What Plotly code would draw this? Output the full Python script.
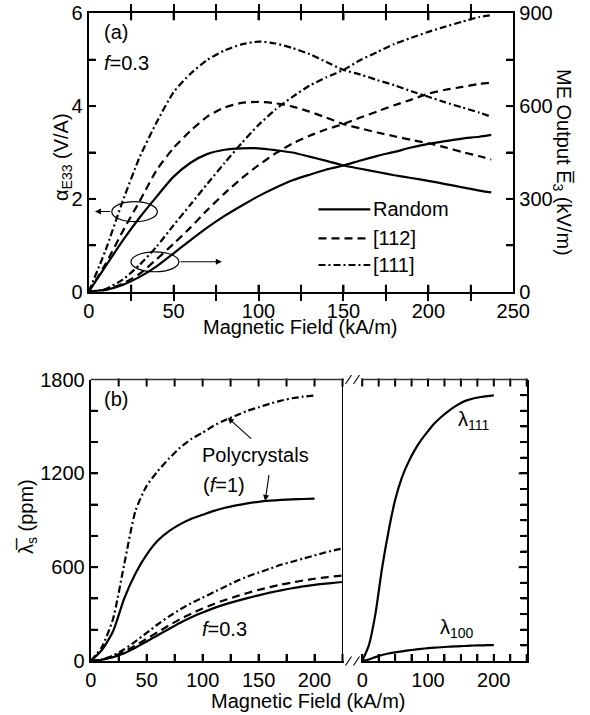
import plotly.graph_objects as go

# ---------------- data ----------------
H_a = [0, 10, 20, 30, 40, 50, 60, 70, 80, 90, 100, 110, 120, 130, 140, 150,
       160, 170, 180, 190, 200, 210, 220, 230, 237]
alpha_random = [0, 0.55, 1.1, 1.6, 2.05, 2.48, 2.78, 2.97, 3.06, 3.09, 3.09, 3.05, 3.0,
                2.91, 2.82, 2.72, 2.65, 2.58, 2.51, 2.45, 2.39, 2.32, 2.25, 2.18, 2.14]
alpha_112 = [0, 0.6, 1.3, 1.95, 2.62, 3.1, 3.47, 3.78, 3.97, 4.07, 4.09, 4.06, 3.99,
             3.88, 3.75, 3.61, 3.52, 3.43, 3.35, 3.27, 3.2, 3.11, 3.01, 2.92, 2.85]
alpha_111 = [0, 0.9, 1.95, 2.9, 3.65, 4.3, 4.7, 5.0, 5.2, 5.33, 5.39, 5.35, 5.25,
             5.12, 4.95, 4.78, 4.68, 4.56, 4.45, 4.32, 4.2, 4.08, 3.97, 3.86, 3.77]
E_random = [0, 6, 22, 48, 82, 124, 167, 208, 245, 278, 309, 336, 360, 378, 395, 408,
            424, 439, 452, 466, 478, 487, 495, 501, 507]
E_112 = [0, 6, 26, 58, 105, 155, 208, 265, 318, 366, 409, 447, 479, 504, 525, 542,
         563, 583, 603, 621, 640, 653, 662, 672, 676]
E_111 = [0, 9, 39, 87, 146, 215, 282, 350, 416, 480, 539, 589, 630, 666, 693, 717,
         749, 775, 801, 821, 840, 857, 873, 888, 894]

H_b = [0, 10, 20, 30, 40, 50, 60, 70, 80, 90, 100, 110, 120, 130, 140, 150,
       160, 170, 180, 190, 200]
poly_random = [0, 70, 190, 400, 560, 680, 770, 830, 875, 910, 935, 960, 980, 995,
               1008, 1018, 1025, 1030, 1033, 1036, 1038]
poly_111 = [0, 90, 270, 620, 960, 1120, 1215, 1295, 1365, 1420, 1460, 1505, 1540,
            1570, 1600, 1622, 1645, 1665, 1680, 1690, 1698]

H_c = [0, 10, 20, 30, 40, 50, 60, 70, 80, 90, 100, 110, 120, 130, 140, 150,
       160, 170, 180, 190, 200, 210, 220, 225]
comp_random = [0, 8, 25, 50, 85, 125, 165, 205, 245, 280, 310, 338, 362, 383, 402,
               420, 437, 452, 465, 477, 487, 495, 502, 505]
comp_112 = [0, 9, 30, 60, 100, 142, 185, 228, 268, 303, 335, 365, 390, 413, 435,
            455, 472, 488, 502, 515, 526, 535, 543, 547]
comp_111 = [0, 10, 35, 75, 125, 180, 235, 285, 330, 370, 405, 440, 475, 510, 540,
            565, 590, 615, 635, 655, 675, 695, 712, 720]

single_111 = [0, 100, 300, 590, 830, 1030, 1170, 1270, 1350, 1415, 1470, 1520, 1560,
              1595, 1625, 1650, 1668, 1680, 1688, 1694, 1698]
single_100 = [0, 10, 25, 38, 48, 55, 62, 68, 73, 78, 82, 85, 88, 91, 93, 95, 97, 99,
              100, 101, 102]

legend_names = ["Random", "[112]", "[111]"]

# tick positions / labels
top_x_ticks = list(range(0, 251, 25))
top_x_labels = [0, 50, 100, 150, 200, 250]
top_y_ticks = [0, 1, 2, 3, 4, 5, 6]
top_y_labels = [0, 2, 4, 6]
top_y2_ticks = list(range(0, 901, 150))
top_y2_labels = [0, 300, 600, 900]
bl_x_ticks = list(range(0, 226, 25))
bl_x_labels = [0, 50, 100, 150, 200]
bl_y_ticks = list(range(0, 1801, 200))
bl_y_labels = [0, 600, 1200, 1800]
br_x_ticks = list(range(0, 251, 25))
br_x_labels = [0, 100, 200]
br_y_ticks = list(range(0, 1801, 100))
br_y_major = [0, 600, 1200, 1800]

# ---------------- styling ----------------
W, Hh = 590, 715
FONT = "Liberation Sans, Arial, sans-serif"
FS = 20
DASH = "8px,5px"
DASHDOT = "7px,3px,2px,3px"
LW = 2.2
styles = {"Random": "solid", "[112]": DASH, "[111]": DASHDOT}
TL = 7.0   # tick length px
TW = 2.0   # tick width


def px(x):
    return x / W


def py(y):
    return 1 - y / Hh


fig = go.Figure()


def line(x, y, dash, xa, ya):
    fig.add_trace(go.Scatter(x=x, y=y, mode="lines", xaxis=xa, yaxis=ya,
                             line=dict(color="black", width=LW, dash=dash, shape="spline",
                                       smoothing=0.6),
                             showlegend=False, hoverinfo="skip"))


# top panel
line(H_a, alpha_random, "solid", "x", "y")
line(H_a, alpha_112, DASH, "x", "y")
line(H_a, alpha_111, DASHDOT, "x", "y")
line(H_a, E_random, "solid", "x", "y2")
line(H_a, E_112, DASH, "x", "y2")
line(H_a, E_111, DASHDOT, "x", "y2")

# bottom-left
line(H_b, poly_random, "solid", "x3", "y3")
line(H_b, poly_111, DASHDOT, "x3", "y3")
line(H_c, comp_random, "solid", "x3", "y3")
line(H_c, comp_112, DASH, "x3", "y3")
line(H_c, comp_111, DASHDOT, "x3", "y3")

# bottom-right
line(H_b, single_111, "solid", "x4", "y4")
line(H_b, single_100, "solid", "x4", "y4")

tickfont = dict(family=FONT, size=FS, color="black")


def ax(**kw):
    d = dict(showgrid=False, zeroline=False, showline=True, linecolor="black",
             linewidth=2, ticks="inside", ticklen=TL, tickwidth=TW, tickcolor="black",
             tickfont=tickfont, tickmode="array", automargin=False)
    d.update(kw)
    return d


T_TOP, B_TOP = 13.3, 291.7
T_BOT, B_BOT = 379.5, 661.0
L_TOP, R_TOP = 88.7, 513.3
L_BL, BRK, R_BR = 90.7, 342.5, 526.7

top_y0, top_y1 = py(B_TOP), py(T_TOP)
bot_y0, bot_y1 = py(B_BOT), py(T_BOT)
x_top = [px(L_TOP), px(R_TOP)]
x_bl = [px(L_BL), px(BRK)]
x_br = [px(BRK), px(R_BR)]

XR_TOP, YR_TOP, Y2R_TOP = [0, 250], [0, 6], [0, 900]
XR_BL, XR_BR, YR_BOT = [0, 225], [-30, 250], [0, 1800]

fig.update_layout(
    template="none",
    width=W, height=Hh, margin=dict(l=0, r=0, t=0, b=0, autoexpand=False),
    paper_bgcolor="white", plot_bgcolor="white",
    font=dict(family=FONT, size=FS, color="black"),
    xaxis=ax(domain=x_top, range=XR_TOP, anchor="y", mirror="allticks",
             tickvals=top_x_ticks,
             ticktext=[str(v) if v in top_x_labels else "" for v in top_x_ticks]),
    yaxis=ax(domain=[top_y0, top_y1], range=YR_TOP, anchor="x",
             tickvals=top_y_ticks,
             ticktext=[str(v) if v in top_y_labels else "" for v in top_y_ticks]),
    yaxis2=ax(range=Y2R_TOP, overlaying="y", side="right", anchor="x",
              tickvals=top_y2_ticks,
              ticktext=[str(v) if v in top_y2_labels else "" for v in top_y2_ticks]),
    xaxis3=ax(domain=x_bl, range=XR_BL, anchor="y3",
              tickvals=bl_x_ticks,
              ticktext=[str(v) if v in bl_x_labels else "" for v in bl_x_ticks]),
    yaxis3=ax(domain=[bot_y0, bot_y1], range=YR_BOT, anchor="x3",
              tickvals=bl_y_ticks,
              ticktext=[str(v) if v in bl_y_labels else "" for v in bl_y_ticks]),
    xaxis4=ax(domain=x_br, range=XR_BR, anchor="y4",
              tickvals=br_x_ticks,
              ticktext=[str(v) if v in br_x_labels else "" for v in br_x_ticks]),
    yaxis4=ax(domain=[bot_y0, bot_y1], range=YR_BOT, anchor="x4", side="right",
              showticklabels=False, tickvals=br_y_ticks),
)

shapes = []


def seg(x0, y0, x1, y1, width=TW, color="black"):
    shapes.append(dict(type="line", xref="paper", yref="paper", x0=px(x0), x1=px(x1),
                       y0=py(y0), y1=py(y1), line=dict(color=color, width=width),
                       layer="above"))


def scale(v, rng, a, b):
    return a + (v - rng[0]) / (rng[1] - rng[0]) * (b - a)


def ticks_x(vals, rng, left, right, top, bottom, length=TL):
    for v in vals:
        xp = scale(v, rng, left, right)
        seg(xp, bottom + 1, xp, bottom - length)
        seg(xp, top - 1, xp, top + length)


def ticks_y(vals, rng, top, bottom, xline, direction, length=TL):
    for v in vals:
        yp = scale(v, rng, bottom, top)
        seg(xline - direction, yp, xline + direction * length, yp)


ticks_x(top_x_ticks[1:-1], XR_TOP, L_TOP, R_TOP, T_TOP, B_TOP)
ticks_y(top_y_ticks[1:-1], YR_TOP, T_TOP, B_TOP, L_TOP, +1)
ticks_y(top_y2_ticks[1:-1], Y2R_TOP, T_TOP, B_TOP, R_TOP, -1)
ticks_x(bl_x_ticks[1:], XR_BL, L_BL, BRK, T_BOT, B_BOT)
ticks_y(bl_y_ticks[1:-1], YR_BOT, T_BOT, B_BOT, L_BL, +1)
ticks_x(br_x_ticks, XR_BR, BRK, R_BR, T_BOT, B_BOT)
ticks_y([v for v in br_y_ticks[1:-1] if v not in br_y_major], YR_BOT, T_BOT, B_BOT,
        R_BR, -1, length=6)
ticks_y(br_y_major[1:-1], YR_BOT, T_BOT, B_BOT, R_BR, -1, length=8)

# thin top frame line of the lower panel
seg(L_BL, T_BOT, R_BR, T_BOT, width=1.3, color="#333")
# break line
seg(BRK, T_BOT, BRK, B_BOT, width=1)

# legend lines (top panel)
for name, yv in zip(legend_names, [1.776, 1.151, 0.575]):
    shapes.append(dict(type="line", xref="x", yref="y", x0=135.3, x1=165.8, y0=yv, y1=yv,
                       line=dict(color="black", width=LW, dash=styles[name])))
# ellipses
for (a, b, c, d) in [(13.6, 40.4, 1.51, 1.94), (24.9, 53.1, 0.43, 0.86)]:
    shapes.append(dict(type="circle", xref="x", yref="y", x0=a, x1=b, y0=c, y1=d,
                       fillcolor="rgba(0,0,0,0)", line=dict(color="black", width=1.2)))
# gaps + slashes
for yc in [B_BOT, T_BOT]:
    shapes.append(dict(type="rect", xref="paper", yref="paper", x0=px(344), x1=px(361),
                       y0=py(yc + 3), y1=py(yc - 3), fillcolor="white",
                       line=dict(width=0), layer="above"))
    for xs in [345.5, 353.5]:
        seg(xs, yc + 4.5, xs + 6, yc - 4.5, width=1.1)
fig.update_layout(shapes=shapes)

ann = []


def text(t, x, y, xref, yref, xanchor="left", size=FS, angle=0):
    ann.append(dict(text=t, x=x, y=y, xref=xref, yref=yref, xanchor=xanchor,
                    yanchor="middle", showarrow=False, textangle=angle,
                    font=dict(family=FONT, size=size, color="black")))


text("(a)", 7.7, 5.6, "x", "y")
text("<i>f</i>=0.3", 7.7, 4.92, "x", "y")
for name, yv in zip(legend_names, [1.776, 1.151, 0.575]):
    text(name, 166.0, yv, "x", "y")
text("(b)", 22.5, 1675, "x3", "y3", xanchor="center")
text("Polycrystals", 97.3, 1317, "x3", "y3")
text("(<i>f</i>=1)", 98.5, 1125, "x3", "y3")
text("<i>f</i>=0.3", 97.3, 205, "x3", "y3")
text("λ<sub>111</sub>", 169, 1535, "x4", "y4", xanchor="center")
text("λ<sub>100</sub>", 144, 205, "x4", "y4", xanchor="center")

# axis titles
text("Magnetic Field (kA/m)", px(301), py(327), "paper", "paper", xanchor="center")
text("Magnetic Field (kA/m)", px(308), py(701), "paper", "paper", xanchor="center")
text("α<sub>E33</sub> (V/A)", px(62), py(157), "paper", "paper", xanchor="center", angle=-90)
text("ME Output E\u0305<sub>3</sub> (kV/m)", px(563), py(162), "paper", "paper",
     xanchor="center", angle=90)
text("λ\u0305<sub>s</sub> (ppm)", px(27), py(517), "paper", "paper", xanchor="center",
     angle=-90)


def arrow(x, y, ax_, ay_, xref, yref):
    ann.append(dict(x=x, y=y, ax=ax_, ay=ay_, xref=xref, yref=yref, axref=xref,
                    ayref=yref, text="", showarrow=True, arrowhead=2, arrowsize=1.1,
                    arrowwidth=1.1, arrowcolor="black"))


arrow(3.7, 1.73, 13.6, 1.73, "x", "y")
arrow(78.4, 0.645, 53.1, 0.645, "x", "y")
arrow(122.4, 1556, 144.7, 1413, "x3", "y3")
arrow(155.9, 1023, 159.5, 1200, "x3", "y3")

fig.update_layout(annotations=ann)
fig.write_html("out.html")
